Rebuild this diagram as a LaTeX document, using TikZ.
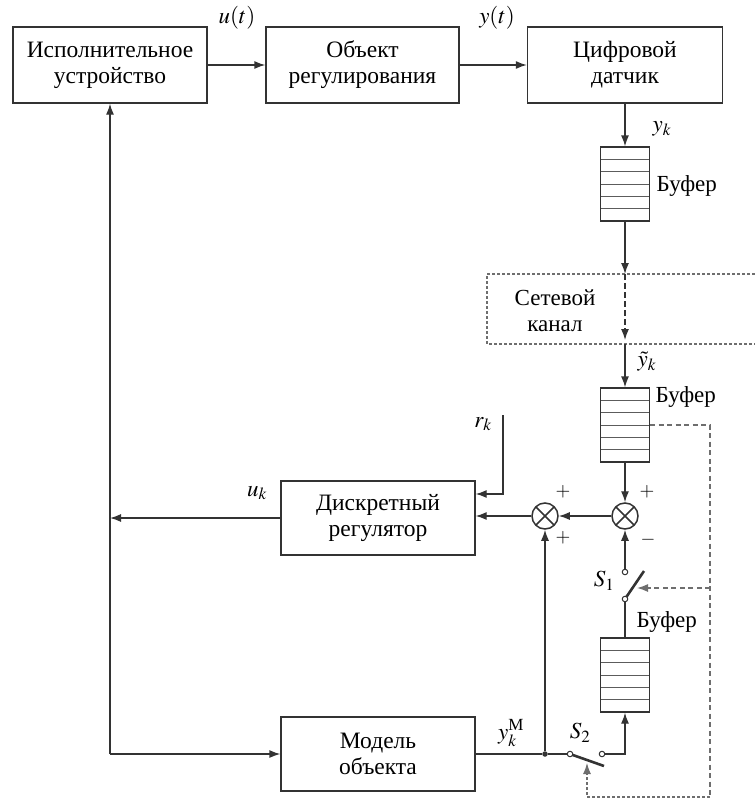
\documentclass[tikz,border=0pt]{standalone}
\usepackage{amsmath}
\usepackage{mathptmx}
\usepackage[no-math]{fontspec}
\setmainfont{Liberation Serif}
\usetikzlibrary{arrows.meta, calc}

\definecolor{linec}{HTML}{333333}
\definecolor{dashc}{HTML}{6E6E6E}

\begin{document}
\begin{tikzpicture}[
  x=1pt, y=-1pt,
  block/.style = {draw=linec, line width=1.3pt, minimum width=194pt, minimum height=76pt,
                  align=center, font=\fontsize{23.5}{26}\selectfont},
  lbl/.style = {font=\fontsize{23}{26}\selectfont, inner sep=0.5pt},
  sgn/.style = {font=\fontsize{19}{22}\selectfont, inner sep=0pt},
  buffer/.style = {draw=linec, line width=1.3pt, minimum width=49pt, minimum height=74pt, inner sep=0pt,
                   path picture={\foreach \i in {1,...,5}
                     \draw[linec!80, line width=0.9pt]
                       ($(path picture bounding box.north west)!\i/6!(path picture bounding box.south west)$) --
                       ($(path picture bounding box.north east)!\i/6!(path picture bounding box.south east)$);}},
  sum/.style = {draw=linec, line width=1.5pt, circle, minimum size=26pt, inner sep=0pt,
                path picture={\draw[linec, line width=1.5pt]
                  (path picture bounding box.north west) -- (path picture bounding box.south east)
                  (path picture bounding box.north east) -- (path picture bounding box.south west);}},
  contact/.style = {draw=linec, line width=1pt, circle, fill=white, minimum size=5.5pt, inner sep=0pt},
  dot/.style = {circle, fill=linec, minimum size=5.5pt, inner sep=0pt},
  blade/.style = {linec, line width=2.6pt},
  arrow/.style = {draw=linec, line width=1.3pt, -{Latex[length=11pt, width=8pt]}},
  ctl/.style = {draw=dashc, line width=1.4pt, dash pattern=on 5pt off 3.5pt},
  net/.style = {draw=dashc, line width=1.1pt, dash pattern=on 3pt off 2pt}
]
  \useasboundingbox (0,0) rectangle (755,798);

  % Top row: actuator, plant, sensor
  \node[block] (actuator) at (110,65) {Исполнительное\\устройство};
  \node[block, minimum width=193pt] (plant) at (362.5,65) {Объект\\регулирования};
  \node[block, minimum width=195pt] (sensor) at (625,65) {Цифровой\\датчик};

  \draw[arrow] (actuator.east) -- (plant.west);
  \draw[arrow] (plant.east) -- (sensor.west);
  \node[lbl] (ut) at (237,18) {$u(t)$};
  \node[lbl] (yt) at (497,18) {$y(t)$};

  % Sensor buffer
  \node[buffer] (buf1) at (625,184) {};
  \node[lbl, anchor=west] (buf1txt) at (656,186) {Буфер};
  \draw[arrow] (sensor.south) -- (buf1.north);
  \node[lbl] (yk) at (662,129) {$y_k$};

  % Network channel
  \coordinate (netin) at (625,274);
  \coordinate (netend) at (625,340);
  \coordinate (netout) at (625,344);
  \draw[net] (755,274) -- (487,274) -- (487,344) -- (755,344);
  \node[lbl, align=center] (nettxt) at (555,311) {Сетевой\\канал};
  \draw[arrow] (buf1.south) -- (netin);
  \draw[arrow, dash pattern=on 6pt off 3pt] (netin) -- (netend);

  % Receiver buffer
  \node[buffer] (buf2) at (625,425) {};
  \node[lbl, anchor=west] (buf2txt) at (655,397) {Буфер};
  \draw[arrow] (netout) -- (buf2.north);
  \node[lbl] (ytk) at (647,362) {$\tilde{y}_k$};

  % Summing junctions
  \node[sum] (sum1) at (625,516) {};
  \node[sum] (sum2) at (545,516) {};
  \node[sgn] (p1) at (647,492) {$+$};
  \node[sgn] (m1) at (648,540) {$-$};
  \node[sgn] (p2) at (563,492) {$+$};
  \node[sgn] (p3) at (563,538) {$+$};
  \draw[arrow] (buf2.south) -- (sum1.north);
  \draw[arrow] (sum1.west) -- (sum2.east);

  % Controller
  \node[block, minimum height=74pt] (reg) at (378,518) {Дискретный\\регулятор};
  \draw[arrow] (sum2.west) -- (sum2.west -| reg.east);
  \coordinate (rin) at (503,415);
  \coordinate (rk) at (503,494);
  \draw[arrow] (rin) -- (rk) -- (reg.east |- rk);
  \node[lbl] (rklbl) at (483,424) {$r_k$};

  % u_k back to actuator and model
  \coordinate (ujunc) at (reg.west -| actuator.south);
  \draw[arrow] (reg.west) -- (ujunc);
  \node[lbl] (uklbl) at (257,493) {$u_k$};

  % Model
  \node[block, minimum height=74pt] (model) at (378,754) {Модель\\объекта};
  \draw[arrow] (actuator.south |- model.west) -- (actuator.south);
  \draw[arrow] (actuator.south |- model.west) -- (model.west);

  % Switch S1 and model buffer
  \node[buffer] (buf3) at (625,675) {};
  \node[lbl, anchor=west] (buf3txt) at (636,622) {Буфер};
  \coordinate (s1end) at (644,571);
  \draw[blade] (625,599) -- (s1end);
  \node[contact] (s1top) at (625,572) {};
  \node[contact] (s1bot) at (625,599) {};
  \node[lbl] (s1lbl) at (604,581) {$S_1$};
  \draw[arrow] (s1top) -- (sum1.south);
  \draw[draw=linec, line width=1.3pt] (s1bot) -- (buf3.north);

  % Switch S2
  \node[dot] (jm) at (545,754) {};
  \coordinate (s2end) at (604,766);
  \draw[blade] (570,754) -- (s2end);
  \node[contact] (s2l) at (570,754) {};
  \node[contact] (s2r) at (602,754) {};
  \node[lbl] (s2lbl) at (580,733) {$S_2$};
  \node[lbl] (ymlbl) at (511,733) {$y_k^{\text{М}}$};
  \draw[draw=linec, line width=1.3pt] (model.east |- jm) -- (jm) -- (s2l);
  \draw[arrow] (jm) -- (sum2.south);
  \draw[arrow] (s2r) -| (buf3.south);

  % Switch control (dashed)
  \coordinate (dtop) at (710,425);
  \coordinate (dbot) at (710,797);
  \coordinate (s1ctl) at (637,588);
  \coordinate (s2ctl) at (587,763);
  \draw[ctl] (buf2.east) -- (dtop) -- (dbot);
  \draw[ctl, -{Latex[length=11pt, width=8pt]}] (s1ctl -| dtop) -- (s1ctl);
  \draw[ctl, dash pattern=on 3pt off 2pt, line width=1.1pt, -{Latex[length=11pt, width=8pt]}] (dbot) -| (s2ctl);
\end{tikzpicture}
\end{document}
